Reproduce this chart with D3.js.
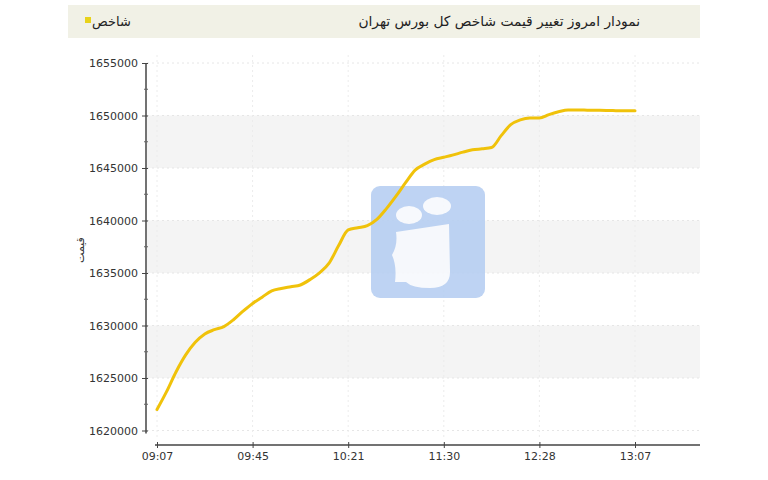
<!DOCTYPE html>
<html>
<head>
<meta charset="utf-8">
<script src="https://cdn.jsdelivr.net/npm/d3@7"></script>
<style>
  html, body { margin: 0; padding: 0; background: #ffffff; }
  svg { display: block; }
  text { font-family: "DejaVu Sans", Tahoma, sans-serif; }
</style>
</head>
<body>
<svg id="chart" width="768" height="480"></svg>
<script>
// ---- data ----
const title = "نمودار امروز تغییر قیمت شاخص کل بورس تهران";
const seriesName = "شاخص";
const yAxisTitle = "قیمت";
const tickLabels = ["09:07", "09:45", "10:21", "11:30", "12:28", "13:07"];
const tickIndex = [0, 10, 20, 30, 40, 50];
const values = [
  1622000, 1623700, 1625600, 1627200, 1628400, 1629200, 1629600, 1629900, 1630550, 1631360,
  1632100, 1632700, 1633300, 1633520, 1633690, 1633860, 1634370, 1635010, 1635940, 1637610,
  1639100, 1639310, 1639510, 1640100, 1641130, 1642320, 1643600, 1644800, 1645370, 1645800,
  1646020, 1646250, 1646510, 1646730, 1646830, 1646950, 1648080, 1649130, 1649580, 1649762,
  1649762, 1650090, 1650350, 1650520, 1650520, 1650510, 1650500, 1650480, 1650460, 1650450,
  1650450
];
const yTicks = [1620000, 1625000, 1630000, 1635000, 1640000, 1645000, 1650000, 1655000];
const yMinorTicks = [1622500, 1627500, 1632500, 1637500, 1642500, 1647500, 1652500];

// ---- layout ----
const svg = d3.select("#chart");
const plotLeft = 147, plotRight = 700, plotTop = 55, xAxisY = 445;

const x = d3.scaleLinear().domain([0, values.length - 1]).range([157, 635]);
const y = d3.scaleLinear().domain([1620000, 1655000]).range([430.5, 63]);

// header bar
svg.append("rect").attr("x", 68).attr("y", 5).attr("width", 632).attr("height", 33)
  .attr("fill", "#f1f1e6");
svg.append("text").attr("x", 640).attr("y", 26).attr("text-anchor", "end")
  .attr("font-size", 13.8).attr("fill", "#222").text(title);
svg.append("rect").attr("x", 85).attr("y", 17).attr("width", 6).attr("height", 6)
  .attr("fill", "#e8d21a");
svg.append("text").attr("x", 92).attr("y", 26).attr("text-anchor", "start")
  .attr("font-size", 13).attr("fill", "#222").text(seriesName);

// alternating bands
const bandPairs = [[1645000, 1650000], [1635000, 1640000], [1625000, 1630000]];
svg.append("g").selectAll("rect").data(bandPairs).join("rect")
  .attr("x", plotLeft).attr("width", plotRight - plotLeft)
  .attr("y", d => y(d[1])).attr("height", d => y(d[0]) - y(d[1]))
  .attr("fill", "#f4f4f4");

// grid lines
svg.append("g").selectAll("line").data(yTicks).join("line")
  .attr("x1", plotLeft).attr("x2", plotRight)
  .attr("y1", d => y(d)).attr("y2", d => y(d))
  .attr("stroke", "#e6e6e6").attr("stroke-dasharray", "2,3");
svg.append("g").selectAll("line").data(tickIndex).join("line")
  .attr("x1", d => x(d)).attr("x2", d => x(d))
  .attr("y1", plotTop).attr("y2", 440)
  .attr("stroke", "#ececec").attr("stroke-dasharray", "2,3");

// watermark
const wm = svg.append("g").attr("opacity", 0.9);
wm.append("rect").attr("x", 371).attr("y", 186).attr("width", 114).attr("height", 112)
  .attr("rx", 9).attr("fill", "#b7cff2");
wm.append("ellipse").attr("cx", 437).attr("cy", 206).attr("rx", 14).attr("ry", 9).attr("fill", "#f7f9fd");
wm.append("ellipse").attr("cx", 409).attr("cy", 215).attr("rx", 13).attr("ry", 9).attr("fill", "#f7f9fd");
wm.append("path").attr("d", "M396,232 L449,224 L450,272 Q450,288 430,288 Q412,288 406,282 L395,282 Q397,266 392,255 Q398,245 396,232 Z")
  .attr("fill", "#f7f9fd");

// y axis
const yAxis = d3.axisLeft(y).tickValues(yTicks).tickSize(5).tickSizeOuter(0).tickFormat(d3.format("d"));
const gy = svg.append("g").attr("transform", "translate(146,0)").call(yAxis);
gy.select(".domain").attr("stroke", "#444").attr("stroke-width", 1.5)
  .attr("d", `M0,${y(1655000)}V${y(1620000) + 3}`);
gy.selectAll(".tick line").attr("stroke", "#444").attr("x2", -4).attr("x1", 2);
gy.selectAll(".tick text").attr("font-size", 11).attr("fill", "#333")
  .attr("font-family", "DejaVu Sans, sans-serif").attr("x", -8);
svg.append("g").selectAll("line").data(yMinorTicks).join("line")
  .attr("x1", 144).attr("x2", 148).attr("y1", d => y(d)).attr("y2", d => y(d))
  .attr("stroke", "#666");

// y axis title
svg.append("text").attr("transform", "translate(84,250) rotate(-90)")
  .attr("text-anchor", "middle").attr("font-size", 11).attr("fill", "#333").text(yAxisTitle);

// x axis
const xAxis = d3.axisBottom(x).tickValues(tickIndex).tickSize(3).tickSizeOuter(0)
  .tickFormat((d, i) => tickLabels[i]);
const gx = svg.append("g").attr("transform", `translate(0,${xAxisY})`).call(xAxis);
gx.select(".domain").attr("stroke", "#444").attr("stroke-width", 1.5).attr("d", "M155,0H700");
gx.selectAll(".tick line").attr("stroke", "#444").attr("y1", -3).attr("y2", 3);
gx.selectAll(".tick text").attr("font-size", 11).attr("fill", "#333")
  .attr("font-family", "DejaVu Sans, sans-serif").attr("y", 7);

// line
const line = d3.line().x((d, i) => x(i)).y(d => y(d)).curve(d3.curveMonotoneX);
svg.append("path").datum(values).attr("d", line)
  .attr("fill", "none").attr("stroke", "#f0c20a").attr("stroke-width", 3)
  .attr("stroke-linejoin", "round").attr("stroke-linecap", "round");
</script>
</body>
</html>
